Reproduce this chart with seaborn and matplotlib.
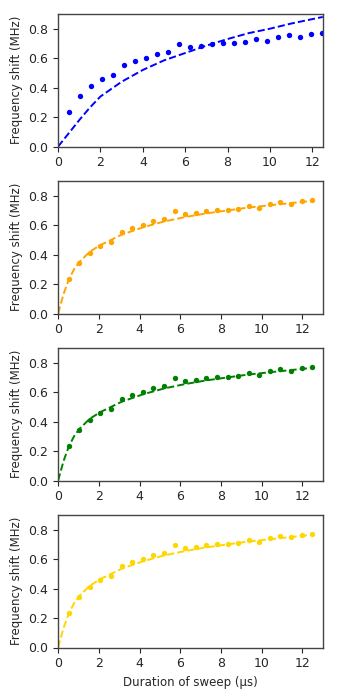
import matplotlib
matplotlib.use("Agg")
import matplotlib.pyplot as plt
import numpy as np
import seaborn as sns

sns.set_style("ticks")
plt.rcParams['font.family'] = ['DejaVu Sans']

# measured points (duration of sweep in us, frequency shift in MHz)
durations = [0.52, 1.04, 1.56, 2.08, 2.60, 3.12, 3.64, 4.16, 4.68, 5.20, 5.72, 6.24,
             6.76, 7.28, 7.80, 8.32, 8.84, 9.36, 9.88, 10.40, 10.92, 11.44, 11.96, 12.48]
shifts = [0.235, 0.345, 0.408, 0.458, 0.487, 0.552, 0.580, 0.602, 0.627, 0.643, 0.693, 0.673,
          0.682, 0.693, 0.705, 0.705, 0.713, 0.730, 0.718, 0.745, 0.760, 0.747, 0.762, 0.770]

# first fit (poor)
fit1_x = [0, 0.5, 1, 1.5, 2, 3, 4, 5, 6, 7, 8, 9, 10, 11, 12, 12.5]
fit1_y = [0, 0.09, 0.18, 0.265, 0.34, 0.44, 0.52, 0.585, 0.635, 0.685, 0.73, 0.77, 0.80, 0.835, 0.865, 0.88]

# second fit (good), same curve in the lower three panels
fit2_x = [0, 0.26, 0.52, 0.78, 1.04, 1.56, 2.08, 2.60, 3.12, 4.16, 5.20, 6.24,
          7.28, 8.32, 9.36, 10.40, 11.44, 12.48]
fit2_y = [0, 0.13, 0.23, 0.30, 0.35, 0.42, 0.465, 0.50, 0.535, 0.585, 0.625, 0.655,
          0.68, 0.70, 0.72, 0.735, 0.75, 0.765]

colors = ['blue', 'orange', 'green', 'gold']
fits = [(fit1_x, fit1_y), (fit2_x, fit2_y), (fit2_x, fit2_y), (fit2_x, fit2_y)]
xmax = [12.5, 13, 13, 13]

fig, axes = plt.subplots(4, 1, figsize=(3.38, 7.0), dpi=100)
fig.subplots_adjust(left=0.172, right=0.955, top=0.98, bottom=0.075, hspace=0.26)

for ax, c, (fx, fy), xm in zip(axes, colors, fits, xmax):
    sns.lineplot(x=fx, y=fy, ax=ax, color=c, linestyle='--', linewidth=1.4)
    sns.scatterplot(x=durations, y=shifts, ax=ax, color=c, s=15, edgecolor=c, linewidth=0)
    ax.set_xlim(0, xm)
    ax.set_ylim(0, 0.9)
    ax.set_xticks([0, 2, 4, 6, 8, 10, 12])
    ax.set_yticks([0.0, 0.2, 0.4, 0.6, 0.8])
    ax.set_ylabel('Frequency shift (MHz)', fontsize=8.5)
    ax.tick_params(labelsize=9, length=3.5, width=0.8)
    for s in ax.spines.values():
        s.set_visible(True)
        s.set_color('#444444')
        s.set_linewidth(1.0)

axes[-1].set_xlabel('Duration of sweep (µs)', fontsize=8.5)

plt.savefig('out.png', dpi=100)
